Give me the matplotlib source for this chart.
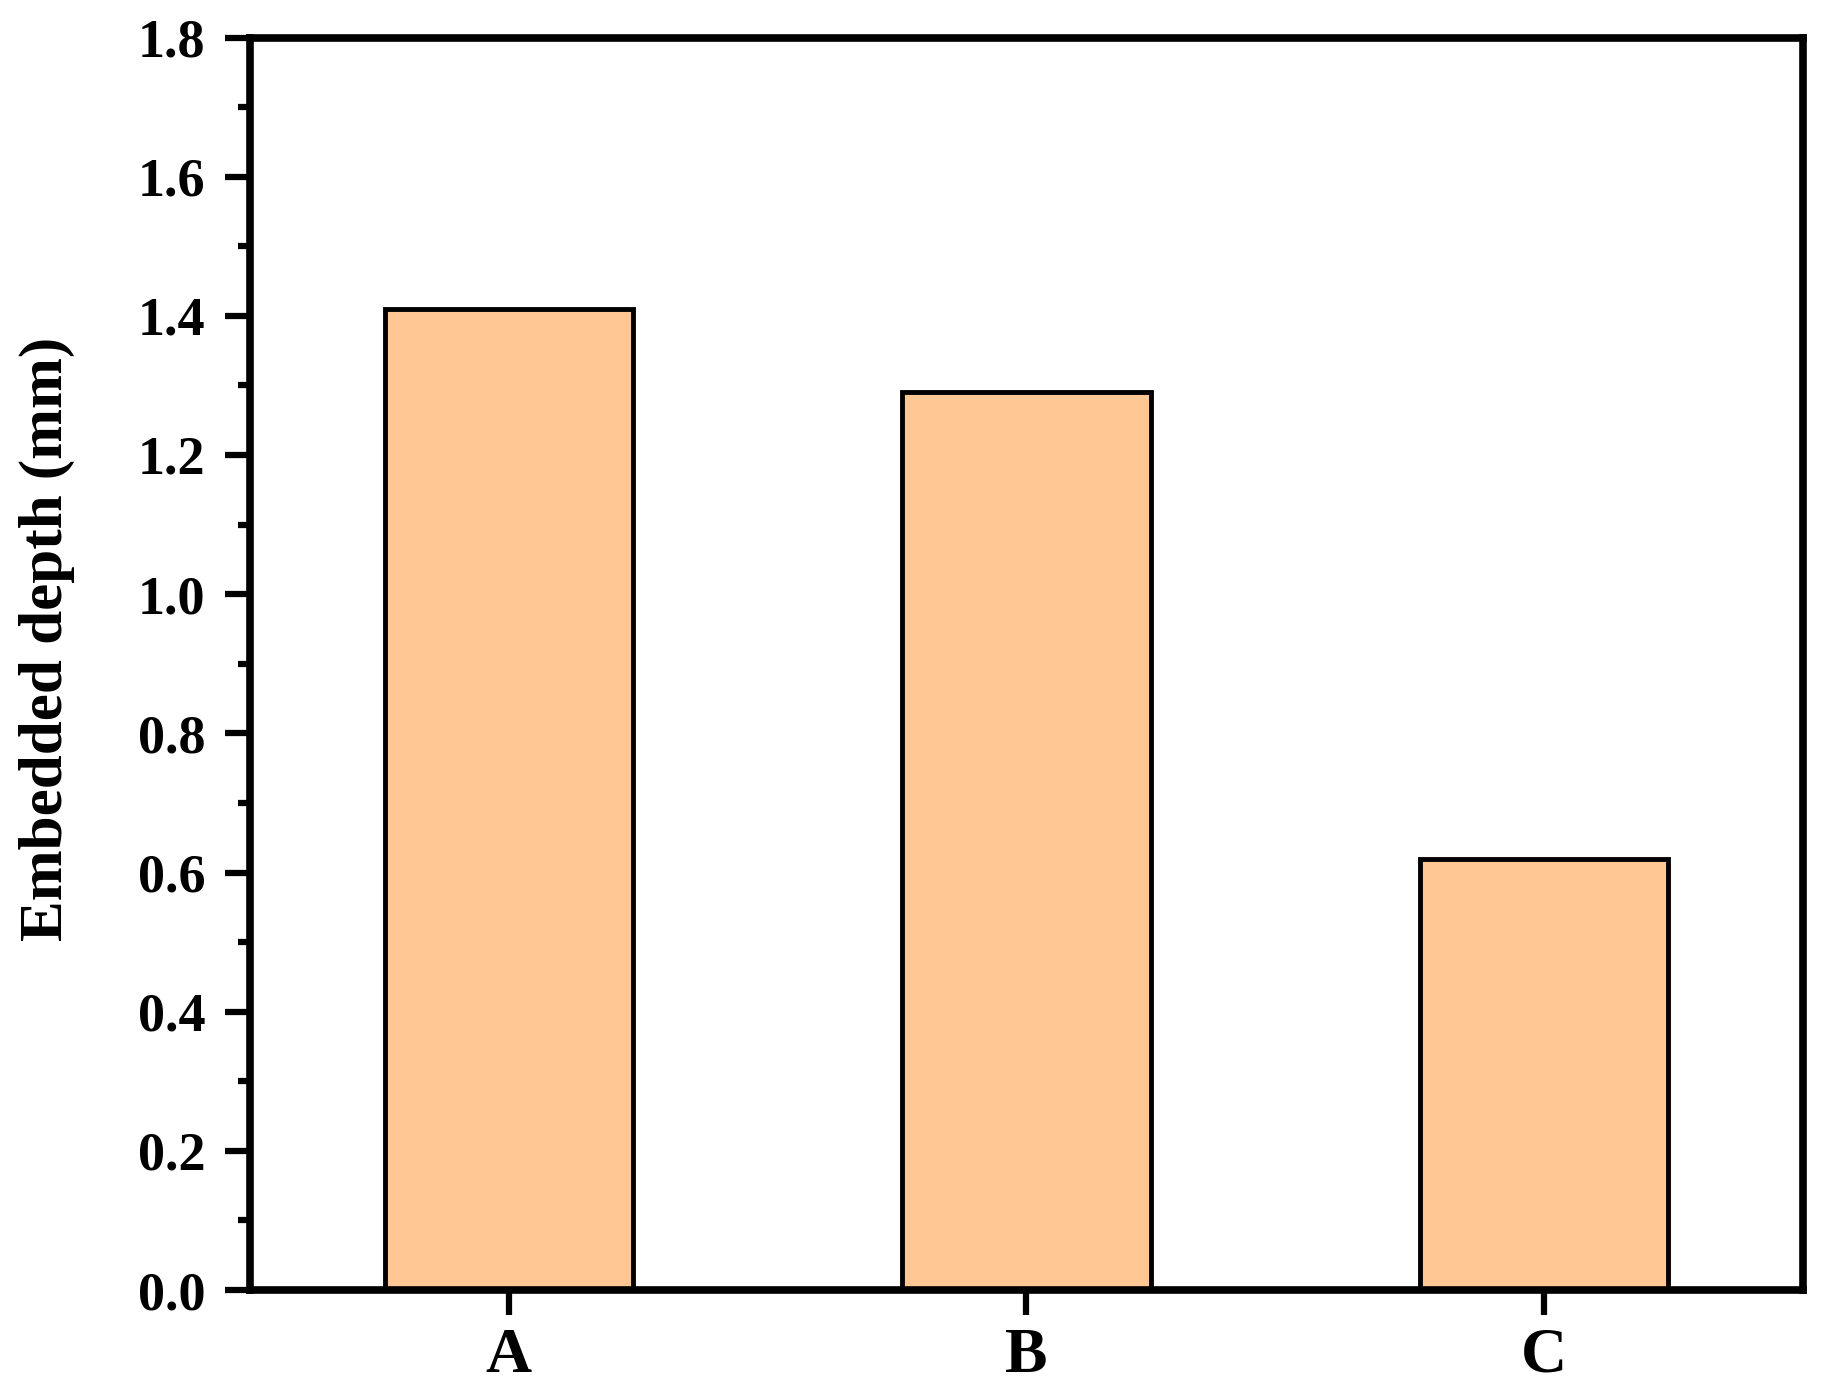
import matplotlib
matplotlib.use("Agg")
import matplotlib.pyplot as plt
from matplotlib.ticker import MultipleLocator

categories = ["A", "B", "C"]
values = [1.41, 1.29, 0.62]
yticks = [0.0, 0.2, 0.4, 0.6, 0.8, 1.0, 1.2, 1.4, 1.6, 1.8]

plt.rcParams['font.family'] = ['Liberation Serif', 'DejaVu Serif']
plt.rcParams['font.weight'] = 'bold'

fig = plt.figure(figsize=(18.32, 13.99), dpi=100)
ax = fig.add_axes([250/1832, 1 - 1290/1399, (1803-250)/1832, (1290-37.5)/1399])

x = list(range(len(categories)))
ax.bar(x, values, width=0.48, color='#FEC794', edgecolor='black', linewidth=3.5, zorder=2)

ax.set_xlim(-0.5, 2.5)
ax.set_ylim(0, 1.8)
ax.set_xticks(x)
ax.set_xticklabels(categories)
ax.set_yticks(yticks)
ax.set_yticklabels([f"{v:.1f}" for v in yticks])
ax.yaxis.set_minor_locator(MultipleLocator(0.1))

for s in ax.spines.values():
    s.set_linewidth(5.5)

ax.tick_params(axis='both', which='major', direction='out', length=18, width=4.5)
ax.tick_params(axis='y', which='major', labelsize=39, pad=14)
ax.tick_params(axis='x', which='major', labelsize=46, pad=9)
ax.tick_params(axis='y', which='minor', direction='out', length=9, width=4.5)
ax.tick_params(axis='x', which='minor', bottom=False)
for lab in ax.get_xticklabels() + ax.get_yticklabels():
    lab.set_fontweight('bold')

ax.set_ylabel("Embedded depth (mm)", fontsize=44, fontweight='bold')
ax.yaxis.set_label_coords(-0.1127, 0.52)

fig.savefig("out.png", dpi=100)
